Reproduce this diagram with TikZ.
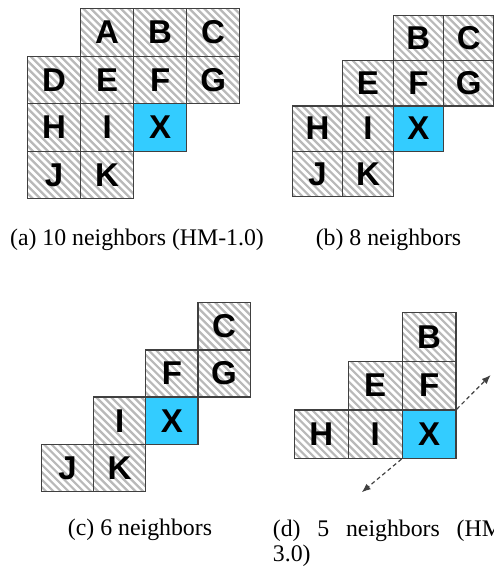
\documentclass[tikz,border=0pt]{standalone}
\usepackage{fontspec}
\setmainfont{Liberation Serif}
\newfontfamily\cellfont{Liberation Sans}
\usetikzlibrary{arrows.meta}
\definecolor{cellblue}{RGB}{51,204,255}
\definecolor{cellborder}{RGB}{64,64,64}
\definecolor{hatchgray}{RGB}{185,185,185}
\tikzset{
  hatchline/.style={draw=hatchgray, line width=2.2pt},
  cellbase/.style={rectangle, draw=cellborder, line width=1.3pt, inner sep=0pt, anchor=north west,
    font=\cellfont\bfseries\fontsize{33pt}{33pt}\selectfont},
  hcell/.style={cellbase, fill=white, path picture={
      \foreach \k in {-14,...,14}{
        \draw[hatchline] (path picture bounding box.center) ++(\k*7.5pt-50pt,50pt) -- ++(100pt,-100pt);
      }}},
  bcell/.style={cellbase, fill=cellblue},
  capt/.style={font=\fontsize{23.8pt}{25pt}\selectfont, inner sep=0pt},
  darrow/.style={draw=cellborder, line width=1.2pt, dash pattern=on 4pt off 3pt, -{Latex[length=9pt,width=7pt]}},
}
\begin{document}
\begin{tikzpicture}[x=1pt,y=-1pt]
\useasboundingbox (0,0) rectangle (494,568);
% ---------- panel (a)
\begin{scope}[every node/.append style={minimum width=53pt, minimum height=47.5pt}]
\node[hcell] (aA) at (80,8) {A};
\node[hcell] (aB) at (133,8) {B};
\node[hcell] (aC) at (186,8) {C};
\node[hcell] (aD) at (27,55.5) {D};
\node[hcell] (aE) at (80,55.5) {E};
\node[hcell] (aF) at (133,55.5) {F};
\node[hcell] (aG) at (186,55.5) {G};
\node[hcell] (aH) at (27,103) {H};
\node[hcell] (aI) at (80,103) {I};
\node[bcell] (aX) at (133,103) {X};
\node[hcell] (aJ) at (27,150.5) {J};
\node[hcell] (aK) at (80,150.5) {K};
\end{scope}
% ---------- panel (b)
\begin{scope}[every node/.append style={minimum width=50.4pt, minimum height=45.3pt}]
\node[hcell] (bB) at (392.5,14.7) {B};
\node[hcell] (bC) at (442.9,14.7) {C};
\node[hcell] (bE) at (342.1,60) {E};
\node[hcell] (bF) at (392.5,60) {F};
\node[hcell] (bG) at (442.9,60) {G};
\node[hcell] (bH) at (291.7,105.3) {H};
\node[hcell] (bI) at (342.1,105.3) {I};
\node[bcell] (bX) at (392.5,105.3) {X};
\node[hcell] (bJ) at (291.7,150.6) {J};
\node[hcell] (bK) at (342.1,150.6) {K};
\end{scope}
% ---------- panel (c)
\begin{scope}[every node/.append style={minimum width=52.2pt, minimum height=47.2pt}]
\node[hcell] (cC) at (197.3,302) {C};
\node[hcell] (cF) at (145.1,349.2) {F};
\node[hcell] (cG) at (197.3,349.2) {G};
\node[hcell] (cI) at (92.9,396.4) {I};
\node[bcell] (cX) at (145.1,396.4) {X};
\node[hcell] (cJ) at (40.7,443.6) {J};
\node[hcell] (cK) at (92.9,443.6) {K};
\end{scope}
% ---------- panel (d)
\begin{scope}[every node/.append style={minimum width=53.9pt, minimum height=48.6pt}]
\node[hcell] (dB) at (401.5,312) {B};
\node[hcell] (dE) at (347.6,360.6) {E};
\node[hcell] (dF) at (401.5,360.6) {F};
\node[hcell] (dH) at (293.7,409.2) {H};
\node[hcell] (dI) at (347.6,409.2) {I};
\node[bcell] (dX) at (401.5,409.2) {X};
\end{scope}
\coordinate (dNE) at (490.7,375);
\coordinate (dSW) at (361.7,492.3);
\draw[darrow] (dX.north east) -- (dNE);
\draw[darrow] (dX.south west) -- (dSW);
% ---------- captions
\node[capt, anchor=base] (capA) at (137,245) {(a) 10 neighbors (HM-1.0)};
\node[capt, anchor=base] (capB) at (388.5,245) {(b) 8 neighbors};
\node[capt, anchor=base] (capC) at (140,535.5) {(c) 6 neighbors};
\node[capt, anchor=base west, align=left] (capD) at (272.7,561.7)
  {\makebox[238pt][s]{(d) 5 neighbors (HM-}\\3.0)};
\end{tikzpicture}
\end{document}
